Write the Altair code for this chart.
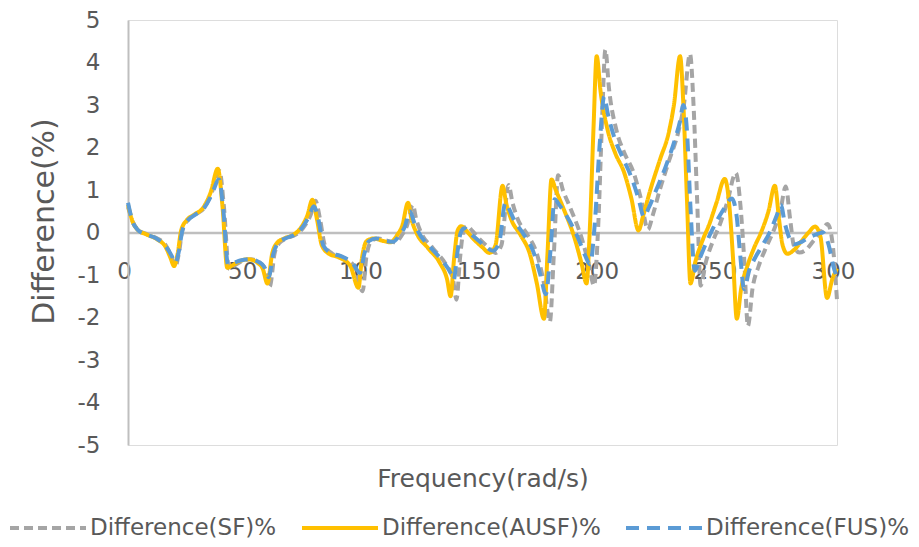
import altair as alt
import pandas as pd

# ---- data ----
SF_X = [0, 2, 4, 8, 12, 16, 18.5, 20, 21.5, 23, 25.5, 28.5, 32.5, 35.5, 38.7, 40.6, 42.7, 45, 48, 52, 56, 58, 60, 62, 64, 67, 71, 74, 77.3, 79.3, 81.3, 83.3, 86.5, 90.5, 95.5, 99.3, 100.8, 103, 106, 110, 113, 116, 118, 120.5, 122, 124, 129, 134.5, 137.5, 139, 140.5, 142, 143.5, 145.5, 148.5, 152.5, 155.5, 158, 161, 162.7, 164.8, 169, 173, 176, 178.5, 180.2, 182, 184, 187, 192, 195, 197.2, 199, 200.5, 202, 203.5, 206.7, 209.8, 214, 217, 220, 222, 225, 229, 233, 235.2, 237.8, 239.3, 240.8, 242.3, 244.5, 247.5, 250.5, 253.5, 257.2, 259.2, 260.7, 262.3, 264.3, 266.8, 270, 273, 276, 278.3, 280.2, 281.7, 284, 287, 290, 293, 296, 298, 300]
SF_Y = [0.6, 0.25, 0.08, -0.04, -0.13, -0.3, -0.58, -0.8, -0.5, 0.05, 0.3, 0.42, 0.6, 0.95, 1.45, 0.6, -0.85, -0.78, -0.68, -0.63, -0.72, -0.85, -1.27, -0.5, -0.25, -0.14, -0.05, 0.1, 0.42, 0.75, 0.3, -0.3, -0.5, -0.58, -0.78, -1.38, -0.6, -0.2, -0.14, -0.2, -0.23, -0.05, 0.15, 0.65, 0.3, 0.0, -0.37, -0.75, -1.1, -1.58, -0.6, 0.05, 0.15, 0.05, -0.14, -0.35, -0.48, -0.3, 1.12, 0.7, 0.33, -0.05, -0.5, -1.2, -2.1, -0.5, 1.35, 1.0, 0.6, -0.14, -0.75, -1.25, 0.2, 2.5, 4.3, 3.4, 2.4, 1.9, 1.4, 0.8, 0.07, 0.4, 1.0, 1.7, 2.4, 3.0, 4.2, 3.0, 0.8, -1.25, -0.7, -0.2, 0.2, 0.7, 1.4, 0.6, -0.6, -2.2, -1.3, -0.8, -0.35, 0.02, 0.5, 1.08, 0.3, -0.3, -0.47, -0.4, -0.2, 0.0, 0.2, -0.2, -1.6]

AUSF_X = [0, 2, 4, 8, 12, 16, 18, 19.5, 21, 22.5, 25, 28, 32, 35, 38, 40, 42, 44, 47, 51, 55, 57, 59, 61, 63, 66, 70, 73, 76, 78, 80, 82, 85, 89, 94, 97.5, 99, 101, 104, 108, 111, 114, 116, 118.5, 120, 122, 127, 132, 135, 136.5, 138, 139.5, 141, 143, 146, 150, 153, 155.5, 158.5, 160, 162, 166, 170, 173, 176, 177.5, 179.2, 181, 184, 189, 192, 194, 195.5, 197, 198.3, 200, 203, 206, 210, 213, 216, 218, 221, 225, 229, 231, 233.6, 235, 236.5, 238, 240, 243, 246, 249, 252.5, 254.5, 256, 257.6, 259.5, 262, 265, 268, 271, 273.7, 275.5, 277, 279, 282, 285, 288, 290.7, 293, 295.8, 298, 300]
AUSF_Y = [0.65, 0.25, 0.07, -0.05, -0.15, -0.35, -0.6, -0.79, -0.5, 0.05, 0.3, 0.42, 0.6, 0.95, 1.5, 0.6, -0.83, -0.78, -0.68, -0.63, -0.72, -0.85, -1.2, -0.5, -0.25, -0.14, -0.05, 0.1, 0.42, 0.77, 0.3, -0.3, -0.5, -0.58, -0.78, -1.3, -0.6, -0.2, -0.14, -0.2, -0.23, -0.05, 0.15, 0.7, 0.3, 0.0, -0.37, -0.72, -1.1, -1.5, -0.6, 0.05, 0.15, 0.05, -0.14, -0.35, -0.48, -0.3, 1.1, 0.7, 0.33, -0.05, -0.5, -1.2, -2.03, -0.5, 1.25, 1.0, 0.6, -0.14, -0.75, -1.2, 0.2, 2.5, 4.15, 3.3, 2.4, 1.89, 1.4, 0.8, 0.05, 0.4, 1.0, 1.7, 2.4, 3.0, 4.15, 3.0, 0.8, -1.2, -0.7, -0.2, 0.2, 0.7, 1.26, 0.6, -0.6, -2.03, -1.3, -0.8, -0.35, 0.02, 0.5, 1.1, 0.3, -0.3, -0.5, -0.4, -0.2, 0.0, 0.14, -0.1, -1.54, -1.1, -0.85]

FUS_X = [0, 2, 4, 8, 12, 16, 18.5, 20, 21.5, 23, 25.5, 28.5, 32.5, 35.5, 38.5, 40.3, 42.3, 44.5, 47.5, 51.5, 55.5, 57.5, 59.5, 61.5, 63.5, 66.5, 70.5, 73.5, 76.6, 78.6, 80.6, 82.6, 85.8, 89.8, 95, 98.2, 100, 102, 105, 109, 112, 115, 117, 119.3, 121, 123, 128, 133.5, 136.5, 137.8, 139.3, 140.8, 142.3, 144.3, 147.3, 151.3, 154.3, 157, 159.7, 161.3, 163.3, 167.5, 171.5, 174.5, 176.8, 178.8, 180.5, 182.5, 185.5, 190.5, 193.5, 195.5, 197.5, 199.5, 201.5, 203, 206, 209, 213, 216, 218.3, 220.5, 223.5, 227.5, 231.5, 233.5, 235, 236.5, 238, 239.8, 242, 245, 248, 251.5, 255.5, 257.5, 259, 260.7, 262.8, 265.3, 268.5, 271.5, 274.5, 276.2, 278, 280, 281.8, 285, 288, 291, 294, 296.5, 298.5, 300]
FUS_Y = [0.7, 0.25, 0.07, -0.05, -0.14, -0.33, -0.55, -0.72, -0.45, 0.05, 0.3, 0.42, 0.6, 0.9, 1.25, 0.55, -0.75, -0.72, -0.66, -0.63, -0.7, -0.8, -1.05, -0.5, -0.25, -0.14, -0.05, 0.1, 0.38, 0.62, 0.3, -0.3, -0.48, -0.55, -0.72, -0.95, -0.5, -0.2, -0.14, -0.2, -0.22, -0.05, 0.12, 0.5, 0.25, 0.0, -0.35, -0.7, -0.95, -1.12, -0.5, 0.0, 0.1, 0.0, -0.14, -0.33, -0.43, -0.25, 0.7, 0.55, 0.3, -0.05, -0.45, -1.0, -1.45, -0.4, 0.78, 0.65, 0.4, -0.14, -0.55, -0.75, 0.2, 2.0, 3.2, 2.8, 2.2, 1.8, 1.3, 0.8, 0.37, 0.6, 1.0, 1.55, 2.2, 2.6, 3.0, 2.4, 0.6, -0.9, -0.6, -0.2, 0.15, 0.5, 0.8, 0.4, -0.5, -1.33, -0.9, -0.6, -0.3, 0.0, 0.4, 0.65, 0.2, -0.15, -0.28, -0.22, -0.12, -0.05, 0.0, -0.3, -0.8, -1.07]

SERIES = ["Difference(SF)%", "Difference(AUSF)%", "Difference(FUS)%"]
COLORS = ["#A5A5A5", "#FFC000", "#5B9BD5"]
DASHES = [[9, 5], [1, 0], [13, 8]]
X_TICKS = [0, 50, 100, 150, 200, 250, 300]
Y_TICKS = [5, 4, 3, 2, 1, 0, -1, -2, -3, -4, -5]

frames = []
for name, xs, ys in [(SERIES[0], SF_X, SF_Y), (SERIES[1], AUSF_X, AUSF_Y), (SERIES[2], FUS_X, FUS_Y)]:
    frames.append(pd.DataFrame({"freq": xs, "diff": ys, "series": name}))
df = pd.concat(frames, ignore_index=True)

FONT = "DejaVu Sans"
TXT = "#595959"

x_enc = alt.X("freq:Q", scale=alt.Scale(domain=[0, 300], nice=False),
              axis=alt.Axis(values=X_TICKS, title="Frequency(rad/s)", offset=-212.5,
                            domainColor="#BFBFBF", domainWidth=2.5, ticks=False, grid=False,
                            labelPadding=28, labelOffset=-4, labelFlush=False,
                            labelFontSize=23, labelColor=TXT,
                            labelFont=FONT, titleFont=FONT, titleFontSize=25, titleColor=TXT,
                            titleFontWeight="normal", titleY=246, titleBaseline="middle"))
y_enc = alt.Y("diff:Q", scale=alt.Scale(domain=[-5, 5], nice=False),
              axis=alt.Axis(values=Y_TICKS, title="Difference(%)", domainColor="#BFBFBF",
                            domainWidth=2, ticks=False, grid=False, labelPadding=28,
                            labelExpr="'' + datum.value", labelFlush=False,
                            labelFontSize=23, labelColor=TXT, labelFont=FONT,
                            titleFont=FONT, titleFontSize=30, titleColor=TXT,
                            titleFontWeight="normal", titleX=-84, titleY=201,
                            titleAngle=-90, titleBaseline="middle", titleAlign="center"))
LEG = dict(title=None, orient="none", direction="horizontal", legendX=-120, legendY=468,
           columns=3, symbolType="stroke", symbolSize=5776, symbolStrokeWidth=4,
           labelFontSize=23, labelFont=FONT, labelColor=TXT, labelOffset=2,
           columnPadding=17, labelLimit=400, padding=0)
color_enc = alt.Color("series:N", scale=alt.Scale(domain=SERIES, range=COLORS),
                      legend=alt.Legend(**LEG))
dash_enc = alt.StrokeDash("series:N", scale=alt.Scale(domain=SERIES, range=DASHES),
                          legend=alt.Legend(**LEG))

layers = []
for name in SERIES:
    layers.append(
        alt.Chart(df).transform_filter(alt.datum.series == name)
        .mark_line(interpolate="monotone", strokeWidth=4, strokeJoin="round")
        .encode(x=x_enc, y=y_enc, color=color_enc, strokeDash=dash_enc)
    )

chart = alt.layer(*layers).properties(
    width=709, height=425,
    autosize=alt.AutoSizeParams(type="none"),
    padding={"left": 120, "top": 12, "right": 74, "bottom": 94},
).configure_view(stroke="#000000", strokeWidth=1.5).configure(background="white")

chart.save("out.html", embed_options={"renderer": "svg", "actions": False})
